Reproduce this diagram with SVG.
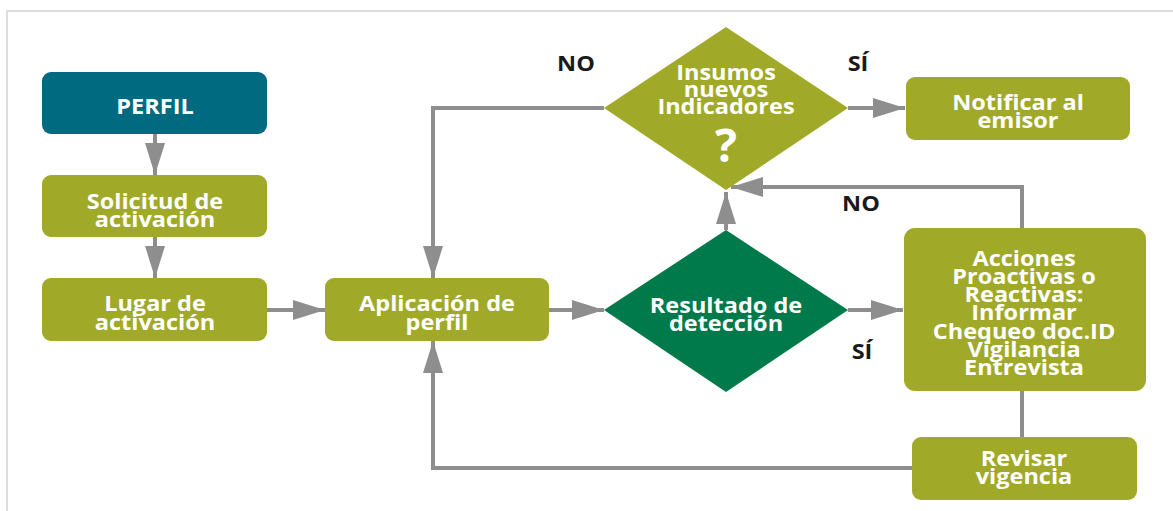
<svg xmlns="http://www.w3.org/2000/svg" width="1173" height="511" viewBox="0 0 1173 511">
<defs>
<style>
.t{font-family:"Open Sans","Liberation Sans",sans-serif;font-weight:700;font-size:21px;fill:#ffffff;text-anchor:middle}
.l{font-family:"Open Sans","Liberation Sans",sans-serif;font-weight:700;font-size:21px;fill:#1a1a1a;text-anchor:middle}
.g{fill:#A0AA28}
.c{fill:none;stroke:#8E8E8E;stroke-width:4}
</style>
<marker id="ah" viewBox="0 0 32 20" refX="32" refY="10" markerWidth="32" markerHeight="20" markerUnits="userSpaceOnUse" orient="auto">
<path d="M0,0 L32,10 L0,20 Z" fill="#8E8E8E"/>
</marker>
</defs>
<rect width="1173" height="511" fill="#ffffff"/>
<path d="M7,511 V11 H1173" fill="none" stroke="#DDDDDD" stroke-width="2"/>
<g id="connectors">
<line class="c" x1="155" y1="134" x2="155" y2="175" marker-end="url(#ah)"/>
<line class="c" x1="155" y1="237" x2="155" y2="278" marker-end="url(#ah)"/>
<line class="c" x1="267" y1="310" x2="325" y2="310" marker-end="url(#ah)"/>
<line class="c" x1="549" y1="310" x2="604" y2="310" marker-end="url(#ah)"/>
<line class="c" x1="848" y1="310" x2="903" y2="310" marker-end="url(#ah)"/>
<line class="c" x1="726" y1="230" x2="726" y2="192" marker-end="url(#ah)"/>
<polyline class="c" points="604,108 433,108 433,278" marker-end="url(#ah)"/>
<line class="c" x1="848" y1="108" x2="905" y2="108" marker-end="url(#ah)"/>
<polyline class="c" points="1022,228 1022,187 731,187" marker-end="url(#ah)"/>
<line class="c" x1="1022" y1="390" x2="1022" y2="437"/>
<polyline class="c" points="912,468 433,468 433,341" marker-end="url(#ah)"/>
<text class="l" transform="translate(576,71) scale(1.12,1)">NO</text>
<text class="l" transform="translate(858,71) scale(1.12,1)">SÍ</text>
<text class="l" transform="translate(861,211) scale(1.12,1)">NO</text>
<text class="l" transform="translate(862,359) scale(1.12,1)">SÍ</text>
</g>
<g id="perfil">
<rect x="42" y="72" width="225" height="62" rx="9" fill="#006A80"/>
<text class="t" transform="translate(155,114) scale(1.12,1)">PERFIL</text>
</g>
<g id="solicitud">
<rect class="g" x="42" y="175" width="225" height="62" rx="9"/>
<text class="t" transform="translate(155,209) scale(1.12,1)">Solicitud de</text>
<text class="t" transform="translate(155,227) scale(1.12,1)">activación</text>
</g>
<g id="lugar">
<rect class="g" x="42" y="278" width="225" height="63" rx="9"/>
<text class="t" transform="translate(155,311) scale(1.12,1)">Lugar de</text>
<text class="t" transform="translate(155,330) scale(1.12,1)">activación</text>
</g>
<g id="aplicacion">
<rect class="g" x="325" y="278" width="224" height="63" rx="9"/>
<text class="t" transform="translate(437,311) scale(1.12,1)">Aplicación de</text>
<text class="t" transform="translate(437,330) scale(1.12,1)">perfil</text>
</g>
<g id="resultado">
<polygon points="726,230 848,310 726,392 604,310" fill="#007A4A"/>
<text class="t" transform="translate(726,313) scale(1.12,1)">Resultado de</text>
<text class="t" transform="translate(726,331) scale(1.12,1)">detección</text>
</g>
<g id="insumos">
<polygon points="726,27 848,108 726,190 604,108" class="g"/>
<text class="t" transform="translate(726,80) scale(1.12,1)">Insumos</text>
<text class="t" transform="translate(726,97) scale(1.12,1)">nuevos</text>
<text class="t" transform="translate(726,114) scale(1.12,1)">Indicadores</text>
<text class="t" x="726" y="162" style="font-size:46px">?</text>
</g>
<g id="notificar">
<rect class="g" x="906" y="77" width="224" height="63" rx="9"/>
<text class="t" transform="translate(1018,110) scale(1.12,1)">Notificar al</text>
<text class="t" transform="translate(1018,128) scale(1.12,1)">emisor</text>
</g>
<g id="acciones">
<rect class="g" x="904" y="228" width="242" height="163" rx="11"/>
<text class="t" transform="translate(1024,266) scale(1.12,1)">Acciones</text>
<text class="t" transform="translate(1024,284) scale(1.12,1)">Proactivas o</text>
<text class="t" transform="translate(1024,302) scale(1.12,1)">Reactivas:</text>
<text class="t" transform="translate(1024,320) scale(1.12,1)">Informar</text>
<text class="t" transform="translate(1024,339) scale(1.12,1)">Chequeo doc.ID</text>
<text class="t" transform="translate(1024,357) scale(1.12,1)">Vigilancia</text>
<text class="t" transform="translate(1024,375) scale(1.12,1)">Entrevista</text>
</g>
<g id="revisar">
<rect class="g" x="912" y="437" width="225" height="63" rx="9"/>
<text class="t" transform="translate(1024,466) scale(1.12,1)">Revisar</text>
<text class="t" transform="translate(1024,484) scale(1.12,1)">vigencia</text>
</g>
</svg>
